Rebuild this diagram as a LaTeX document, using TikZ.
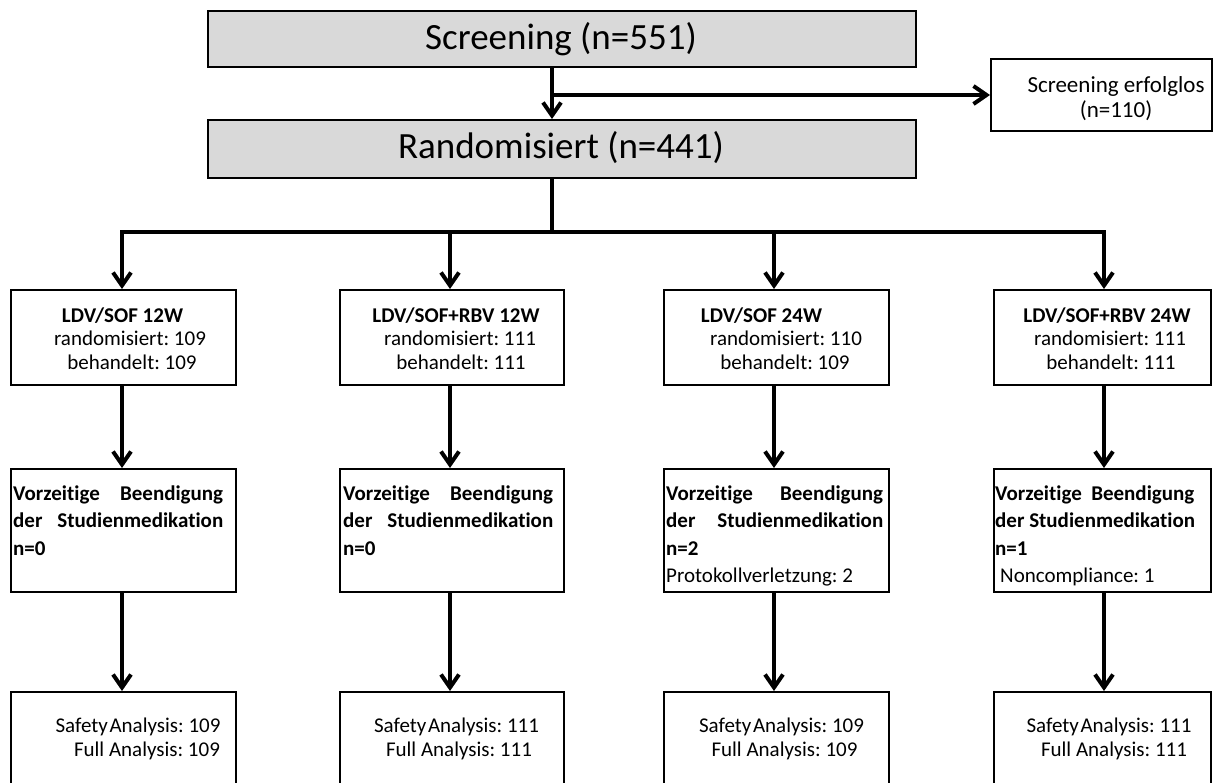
\documentclass[tikz,border=0pt]{standalone}
\usepackage{fontspec}
\setmainfont{Carlito}[Ligatures=NoCommon]
\usetikzlibrary{arrows.meta}
\definecolor{boxgray}{HTML}{D9D9D9}
\frenchspacing

\begin{document}
\begin{tikzpicture}[x=1pt,y=-1pt,
  box/.style={draw=black, line width=2.2pt, inner sep=0pt, anchor=north west},
  graybox/.style={box, fill=boxgray},
  conn/.style={line width=4pt},
  arr/.style={conn, -{Straight Barb[length=13pt,width=18pt]}},
  txt/.style={inner sep=0pt, anchor=base},
  ltxt/.style={inner sep=0pt, anchor=base west},
]
\useasboundingbox (0,0) rectangle (1213,782);
\clip (0,0) rectangle (1213,782);

% ---------- top boxes ----------
\node[graybox, minimum width=708pt, minimum height=56pt] (scr) at (207,10) {};
\node[txt] (scrt) at (561,49) {\fontsize{37}{42}\selectfont Screening (n=551)};

\node[graybox, minimum width=708pt, minimum height=58pt] (rand) at (207,119) {};
\node[txt] (randt) at (561,158) {\fontsize{37}{42}\selectfont Randomisiert (n=441)};

\node[box, minimum width=221pt, minimum height=72pt] (fail) at (990,58) {};
\node[txt] (failt) at (1116,92) {\parbox[t]{200pt}{\centering\fontsize{23}{25}\selectfont
  Screening erfolglos\\(n=110)}};

% ---------- arm boxes ----------
\node[box, minimum width=225pt, minimum height=95pt] (r1) at (10,289) {};
\node[box, minimum width=224pt, minimum height=95pt] (r2) at (339,289) {};
\node[box, minimum width=225pt, minimum height=95pt] (r3) at (663,289) {};
\node[box, minimum width=217pt, minimum height=95pt] (r4) at (993,289) {};

\node[txt] (r1t) at (122.5,322) {\parbox[t]{225pt}{\centering\fontsize{21}{23.5}\selectfont
  \textbf{LDV/SOF 12W}\\ \hspace*{15pt}randomisiert: 109\\ \hspace*{19pt}behandelt: 109}};
\node[txt] (r2t) at (451,322) {\parbox[t]{225pt}{\centering\fontsize{21}{23.5}\selectfont
  \hspace*{10pt}\textbf{LDV/SOF+RBV 12W}\\ \hspace*{18pt}randomisiert: 111\\ \hspace*{20pt}behandelt: 111}};
\node[txt] (r3t) at (775.5,322) {\parbox[t]{225pt}{\centering\fontsize{21}{23.5}\selectfont
  \hspace*{-28pt}\textbf{LDV/SOF 24W}\\ \hspace*{21pt}randomisiert: 110\\ \hspace*{19pt}behandelt: 109}};
\node[txt] (r4t) at (1101.5,322) {\parbox[t]{217pt}{\centering\fontsize{21}{23.5}\selectfont
  \hspace*{11pt}\textbf{LDV/SOF+RBV 24W}\\ \hspace*{17pt}randomisiert: 111\\ \hspace*{19pt}behandelt: 111}};

% ---------- discontinuation boxes ----------
\node[box, minimum width=225pt, minimum height=123pt] (v1) at (10,468) {};
\node[box, minimum width=224pt, minimum height=123pt] (v2) at (339,468) {};
\node[box, minimum width=225pt, minimum height=123pt] (v3) at (663,468) {};
\node[box, minimum width=217pt, minimum height=123pt] (v4) at (993,468) {};

\node[ltxt] (v1t) at (13,500) {\parbox[t]{210pt}{\fontsize{21}{27.5}\selectfont\bfseries
  Vorzeitige\hfill Beendigung\\ der\hfill Studienmedikation\\ n=0}};
\node[ltxt] (v2t) at (343,500) {\parbox[t]{210pt}{\fontsize{21}{27.5}\selectfont\bfseries
  Vorzeitige\hfill Beendigung\\ der\hfill Studienmedikation\\ n=0}};
\node[ltxt] (v3t) at (666,500) {\parbox[t]{217pt}{\fontsize{21}{27.5}\selectfont\bfseries
  Vorzeitige\hfill Beendigung\\ der\hfill Studienmedikation\\ n=2\\
  \mdseries Protokollverletzung: 2}};
\node[ltxt] (v4t) at (995,500) {\parbox[t]{212pt}{\fontsize{21}{27.5}\selectfont\bfseries
  Vorzeitige\ \ Beendigung\\ der Studienmedikation\\ n=1\\
  \mdseries\hspace*{5pt}Noncompliance: 1}};

% ---------- analysis boxes ----------
\node[box, minimum width=225pt, minimum height=140pt] (a1) at (10,691) {};
\node[box, minimum width=224pt, minimum height=140pt] (a2) at (339,691) {};
\node[box, minimum width=225pt, minimum height=140pt] (a3) at (663,691) {};
\node[box, minimum width=217pt, minimum height=140pt] (a4) at (993,691) {};

\node[txt] (a1t) at (122.5,732) {\parbox[t]{225pt}{\centering\fontsize{21}{24.5}\selectfont
  \hspace*{31pt}Safety\hspace{0.08em}Analysis: 109\\ \hspace*{49pt}Full Analysis: 109}};
\node[txt] (a2t) at (451,732) {\parbox[t]{225pt}{\centering\fontsize{21}{24.5}\selectfont
  \hspace*{11pt}Safety\hspace{0.08em}Analysis: 111\\ \hspace*{16pt}Full Analysis: 111}};
\node[txt] (a3t) at (775.5,732) {\parbox[t]{225pt}{\centering\fontsize{21}{24.5}\selectfont
  \hspace*{12pt}Safety\hspace{0.08em}Analysis: 109\\ \hspace*{18pt}Full Analysis: 109}};
\node[txt] (a4t) at (1101.5,732) {\parbox[t]{217pt}{\centering\fontsize{21}{24.5}\selectfont
  \hspace*{15pt}Safety\hspace{0.08em}Analysis: 111\\ \hspace*{25pt}Full Analysis: 111}};

% ---------- connectors ----------
\coordinate (stem) at (552,95);
\coordinate (hub) at (552,232);
\coordinate (c1) at (122,232);
\coordinate (c2) at (450,232);
\coordinate (c3) at (774,232);
\coordinate (c4) at (1104,232);

\draw[arr] (scr.south -| stem) -- (stem |- rand.north);
\draw[arr] (stem) -- (stem -| fail.west);

\draw[conn] (rand.south -| hub) -- (hub);
\draw[arr] (hub) -- (c1) -- (c1 |- r1.north);
\draw[arr] (hub) -- (c4) -- (c4 |- r4.north);
\draw[arr] (c2) -- (c2 |- r2.north);
\draw[arr] (c3) -- (c3 |- r3.north);

\foreach \i in {1,2,3,4} {
  \draw[arr] (r\i.south -| c\i) -- (c\i |- v\i.north);
  \draw[arr] (v\i.south -| c\i) -- (c\i |- a\i.north);
}
\end{tikzpicture}
\end{document}
